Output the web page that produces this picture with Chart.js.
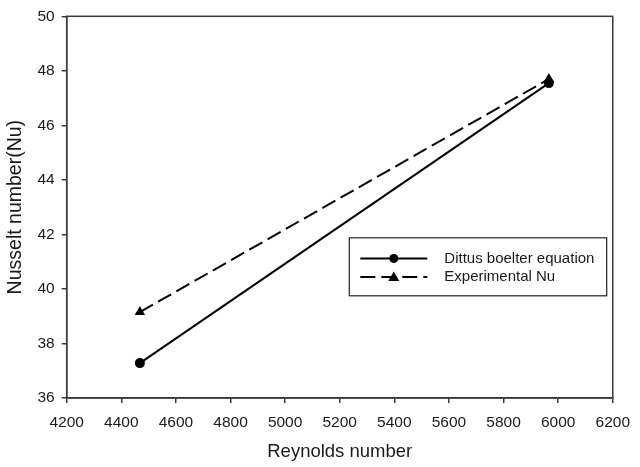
<!DOCTYPE html>
<html>
<head>
<meta charset="utf-8">
<script src="https://cdn.jsdelivr.net/npm/chart.js@4.4.0/dist/chart.umd.min.js"></script>
<style>
html,body{margin:0;padding:0;background:#fff;}
#wrap{width:640px;height:467px;position:relative;}
</style>
</head>
<body>
<div id="wrap"><canvas id="c" width="640" height="467"></canvas></div>
<script>
const reynolds = [4468, 5966];
const dittus = [37.28, 47.55];
const experimental = [39.15, 47.7];
const seriesNames = ["Dittus boelter equation", "Experimental Nu"];
const xTicks = [4200, 4400, 4600, 4800, 5000, 5200, 5400, 5600, 5800, 6000, 6200];
const yTicks = [36, 38, 40, 42, 44, 46, 48, 50];

const FONT = "'Liberation Sans', Arial, sans-serif";
const AXIS = '#3a3a3a';
const TXT = '#1a1a1a';

const toPts = (ys) => reynolds.map((x, i) => ({x: x, y: ys[i]}));

const frame = {
  id: 'frame',
  afterDraw(chart) {
    const {ctx, chartArea: a} = chart;
    ctx.save();
    ctx.strokeStyle = AXIS;
    ctx.lineWidth = 1.5;
    ctx.strokeRect(a.left, a.top, a.right - a.left, a.bottom - a.top);
    // legend
    const bx = a.left + 282.6, by = a.top + 221.5, bw = 257.4, bh = 58;
    ctx.fillStyle = '#fff';
    ctx.fillRect(bx, by, bw, bh);
    ctx.strokeStyle = '#222';
    ctx.lineWidth = 1.2;
    ctx.strokeRect(bx, by, bw, bh);
    const rows = [by + 20.7, by + 39.3];
    chart.data.datasets.forEach((ds, i) => {
      const y = rows[i];
      ctx.strokeStyle = ds.borderColor;
      ctx.lineWidth = ds.borderWidth;
      ctx.setLineDash(ds.borderDash || []);
      ctx.beginPath();
      ctx.moveTo(bx + 11, y);
      ctx.lineTo(bx + 78, y);
      ctx.stroke();
      ctx.setLineDash([]);
      ctx.fillStyle = '#000';
      const cx = bx + 44.5;
      if (ds.pointStyle === 'triangle') {
        const r = 5.5;
        ctx.beginPath();
        ctx.moveTo(cx, y - r);
        ctx.lineTo(cx + r, y + r * 0.7);
        ctx.lineTo(cx - r, y + r * 0.7);
        ctx.closePath();
        ctx.fill();
      } else {
        ctx.beginPath();
        ctx.arc(cx, y, 4.5, 0, Math.PI * 2);
        ctx.fill();
      }
      ctx.fillStyle = TXT;
      ctx.font = '15px ' + FONT;
      ctx.textBaseline = 'middle';
      ctx.textAlign = 'left';
      ctx.fillText(ds.label, bx + 95, y);
    });
    ctx.restore();
  }
};

new Chart(document.getElementById('c'), {
  type: 'line',
  data: {
    datasets: [
      {
        label: seriesNames[0],
        data: toPts(dittus),
        borderColor: '#000',
        backgroundColor: '#000',
        borderWidth: 2,
        pointStyle: 'circle',
        pointRadius: 5,
        pointBorderWidth: 0,
        tension: 0
      },
      {
        label: seriesNames[1],
        data: toPts(experimental),
        borderColor: '#000',
        backgroundColor: '#000',
        borderWidth: 2,
        borderDash: [15, 6],
        pointStyle: 'triangle',
        pointRadius: 6,
        pointBorderWidth: 0,
        tension: 0
      }
    ]
  },
  options: {
    responsive: false,
    animation: false,
    devicePixelRatio: 1,
    layout: {padding: {left: 0, right: 23.3, top: 13.5, bottom: 0}},
    plugins: {legend: {display: false}, tooltip: {enabled: false}},
    scales: {
      x: {
        type: 'linear',
        min: 4200, max: 6200,
        afterBuildTicks: (s) => { s.ticks = xTicks.map(v => ({value: v})); },
        afterFit: (s) => { s.height = 69; },
        border: {display: true, color: AXIS, width: 1.5},
        grid: {display: true, drawOnChartArea: false, drawTicks: true, tickLength: 5, color: AXIS, lineWidth: 1.5},
        ticks: {color: TXT, font: {family: FONT, size: 15.5}, padding: 10, maxRotation: 0, callback: (v) => String(v)},
        title: {display: true, text: 'Reynolds number', color: TXT, font: {family: FONT, size: 18.5}, padding: {top: 5}}
      },
      y: {
        type: 'linear',
        min: 36, max: 50,
        afterBuildTicks: (s) => { s.ticks = yTicks.map(v => ({value: v})); },
        afterFit: (s) => { s.width = 66.7; },
        border: {display: true, color: AXIS, width: 1.5},
        grid: {display: true, drawOnChartArea: false, drawTicks: true, tickLength: 5, color: AXIS, lineWidth: 1.5},
        ticks: {color: TXT, font: {family: FONT, size: 15.5}, padding: 7, callback: (v) => String(v)},
        title: {display: true, text: 'Nusselt number(Nu)', color: TXT, font: {family: FONT, size: 19.5}, padding: {bottom: 1}}
      }
    }
  },
  plugins: [frame]
});
</script>
</body>
</html>
